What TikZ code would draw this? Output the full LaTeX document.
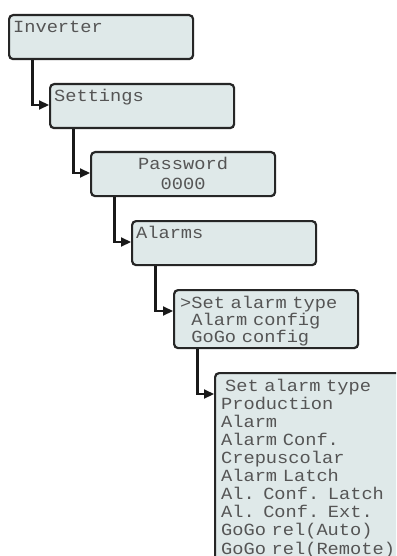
\documentclass[tikz,border=0pt]{standalone}
\usepackage{fontspec}
\usetikzlibrary{arrows.meta}
\newfontfamily\lcd[FakeStretch=1.1]{Liberation Mono}
\newcommand\lcdsize[1]{\lcd\fontsize{17}{#1}\selectfont\spaceskip=11.2pt\relax}
\definecolor{lcdback}{RGB}{223,233,233}
\definecolor{lcdink}{RGB}{85,85,85}
\begin{document}
\begin{tikzpicture}[x=1pt,y=-1pt,
  screen/.style={draw=black!85, line width=2.2pt, rounded corners=4pt, fill=lcdback,
    anchor=north west, text=lcdink, font=\lcdsize{18pt},
    text width=176pt, inner xsep=4pt, inner ysep=0pt,
    text height=17pt, text depth=27pt, align=left},
  menu/.style={screen, inner xsep=6pt, text width=172pt, text height=18pt},
  jump/.style={line width=2.2pt, draw=black!90, -{Triangle[length=10pt,width=9pt]}}]
  \useasboundingbox (0,0) rectangle (396,556);
  \clip (0,0) rectangle (396,556);
  % menu screens
  \node[screen] (inv) at (8,14) {Inverter};
  \node[screen] (set) at (49,83) {Settings};
  \node[screen, align=center, font=\lcdsize{20pt}] (pwd) at (90,151) {Password\\0000};
  \node[screen] (alm) at (131,220) {Alarms};
  \node[menu, font=\lcdsize{17pt}, text depth=40pt] (sub) at (173,289)
    {>Set alarm type\\\phantom{>}Alarm config\\\phantom{>}GoGo config};
  \node[menu, font=\lcdsize{18.1pt}, text width=190pt, text depth=200pt] (typ) at (214,372)
    {\hspace*{4pt}Set alarm type\\Production\\Alarm\\Alarm Conf.\\Crepuscolar\\Alarm Latch\\Al. Conf. Latch\\Al. Conf. Ext.\\GoGo rel(Auto)\\GoGo rel(Remote)};
  % links
  \draw[jump] ([xshift=24.5pt]inv.south west) |- ([yshift=-22pt]set.north west);
  \draw[jump] ([xshift=24.5pt]set.south west) |- ([yshift=-22pt]pwd.north west);
  \draw[jump] ([xshift=24.5pt]pwd.south west) |- ([yshift=-22pt]alm.north west);
  \draw[jump] ([xshift=24.5pt]alm.south west) |- ([yshift=-22pt]sub.north west);
  \draw[jump] ([xshift=24.5pt]sub.south west) |- ([yshift=-22pt]typ.north west);
\end{tikzpicture}
\end{document}
